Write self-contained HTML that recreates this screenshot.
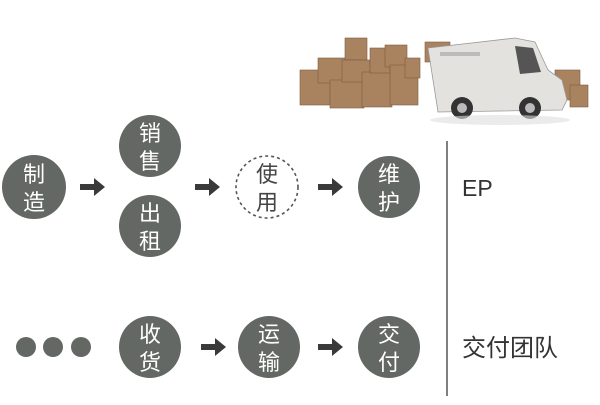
<!DOCTYPE html>
<html><head><meta charset="utf-8"><style>
body{margin:0;width:600px;height:400px;background:#fff;overflow:hidden;font-family:"Liberation Sans","Noto Sans CJK SC",sans-serif}
</style></head><body>
<svg width="600" height="400" viewBox="0 0 600 400" xmlns="http://www.w3.org/2000/svg" font-family="Liberation Sans, Noto Sans CJK SC, sans-serif">
<g fill="#a98360" stroke="#7d5c3e" stroke-width="0.6">
<rect x="300" y="70" width="30" height="35"/>
<rect x="318" y="58" width="28" height="25"/>
<rect x="330" y="80" width="34" height="28"/>
<rect x="345" y="38" width="22" height="22"/>
<rect x="342" y="60" width="28" height="22"/>
<rect x="362" y="72" width="30" height="35"/>
<rect x="370" y="48" width="20" height="25"/>
<rect x="385" y="45" width="22" height="22"/>
<rect x="390" y="65" width="28" height="40"/>
<rect x="405" y="58" width="15" height="20"/>
<rect x="425" y="42" width="25" height="20"/>
<rect x="555" y="70" width="25" height="30"/>
<rect x="570" y="85" width="18" height="22"/>
</g>
<path d="M428 48 L515 38 L535 42 L548 70 L562 80 L567 100 L562 110 L438 112 Z" fill="#e4e2de" stroke="#999" stroke-width="0.8"/>
<path d="M515 46 L533 48 L541 72 L520 74 Z" fill="#555"/>
<rect x="440" y="52" width="40" height="4" fill="#bbb"/>
<circle cx="462" cy="108" r="11" fill="#333"/><circle cx="462" cy="108" r="5" fill="#bbb"/>
<circle cx="530" cy="108" r="11" fill="#333"/><circle cx="530" cy="108" r="5" fill="#bbb"/>
<ellipse cx="500" cy="120" rx="70" ry="5" fill="#ddd" opacity="0.6"/>
<g fill="#646864">
<circle cx="34" cy="187" r="32"/>
<circle cx="150" cy="146" r="31"/>
<circle cx="150" cy="226" r="31"/>
<circle cx="389" cy="187" r="31"/>
<circle cx="150" cy="347" r="31"/>
<circle cx="269" cy="347" r="31"/>
<circle cx="389" cy="347" r="31"/>
<circle cx="26" cy="347" r="10"/>
<circle cx="53" cy="347" r="10"/>
<circle cx="81" cy="347" r="10"/>
</g>
<circle cx="267" cy="187" r="31" fill="none" stroke="#555" stroke-width="1.6" stroke-dasharray="3,3"/>
<g fill="#3a3a3a">
<path d="M80 184 h14 v-6 l11 9 l-11 9 v-6 h-14 z"/>
<path d="M195 184 h14 v-6 l11 9 l-11 9 v-6 h-14 z"/>
<path d="M318 184 h14 v-6 l11 9 l-11 9 v-6 h-14 z"/>
<path d="M201 344 h14 v-6 l11 9 l-11 9 v-6 h-14 z"/>
<path d="M318 344 h14 v-6 l11 9 l-11 9 v-6 h-14 z"/>
</g>
<line x1="447" y1="141" x2="447" y2="396" stroke="#555" stroke-width="1.5"/>
<g fill="#fff" font-size="22" text-anchor="middle">
<text x="34" y="182">制</text><text x="34" y="210">造</text>
<text x="150" y="141">销</text><text x="150" y="169">售</text>
<text x="150" y="221">出</text><text x="150" y="249">租</text>
<text x="389" y="182">维</text><text x="389" y="210">护</text>
<text x="150" y="342">收</text><text x="150" y="370">货</text>
<text x="269" y="342">运</text><text x="269" y="370">输</text>
<text x="389" y="342">交</text><text x="389" y="370">付</text>
</g>
<g fill="#444" font-size="22" text-anchor="middle">
<text x="267" y="182">使</text><text x="267" y="210">用</text>
</g>
<text x="462" y="196" font-size="23" fill="#333">EP</text>
<text x="462" y="356" font-size="24" fill="#333">交付团队</text>
</svg>
</body></html>
